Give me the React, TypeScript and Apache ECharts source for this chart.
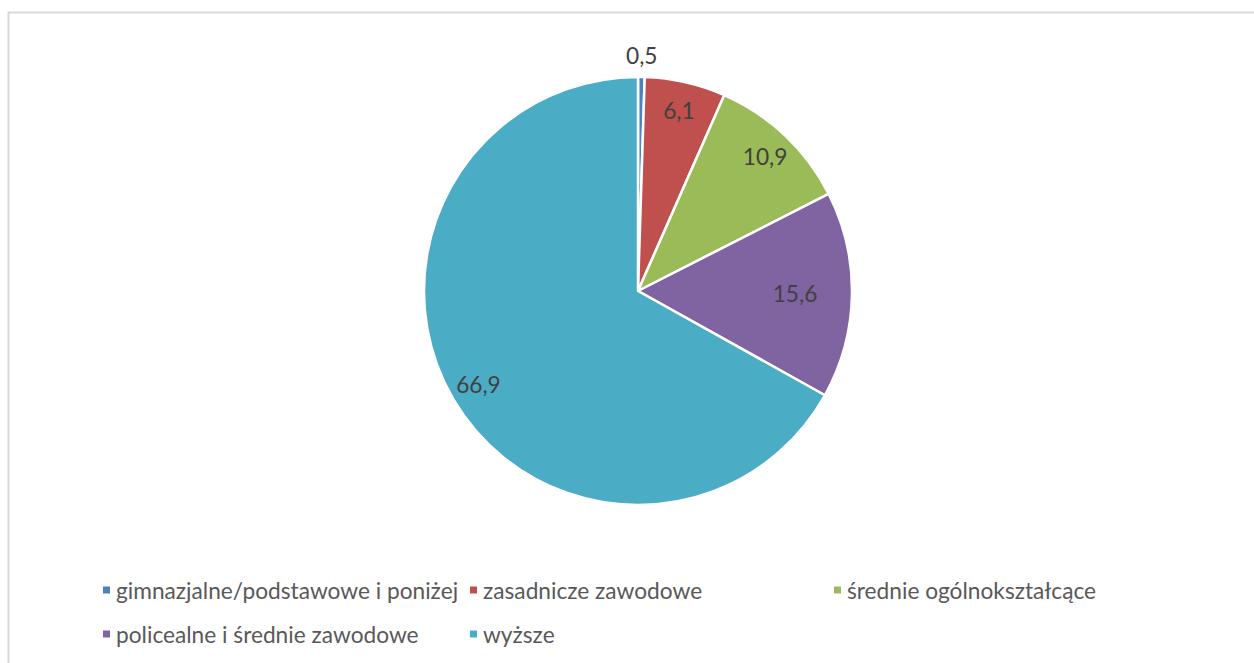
import React, { useEffect, useRef } from "react";
import * as echarts from "echarts";

const categories = [
  "gimnazjalne/podstawowe i poniżej",
  "zasadnicze zawodowe",
  "średnie ogólnokształcące",
  "policealne i średnie zawodowe",
  "wyższe",
];
const values = [0.5, 6.1, 10.9, 15.6, 66.9];
const colors = ["#4F81BD", "#C0504D", "#9BBB59", "#8064A2", "#4BACC6"];

const FONT = "Lato";
const FONT_SIZE = 22.7;
const CENTER = [638, 291];
const R = 214;

const fmt = (v: number) => String(v).replace(".", ",");

const legendPos = [
  { left: 101, top: 578 },
  { left: 468, top: 578 },
  { left: 832, top: 578 },
  { left: 101, top: 622 },
  { left: 468, top: 622 },
];

function labelRing(r0: number, r1: number, show: number[]) {
  return {
    type: "pie",
    center: CENTER,
    radius: [r0, r1],
    startAngle: 90,
    clockwise: true,
    silent: true,
    emphasis: { disabled: true },
    labelLine: { show: false },
    label: {
      show: true,
      position: "inside",
      color: "#404040",
      fontFamily: FONT,
      fontSize: FONT_SIZE,
      formatter: (p: any) => fmt(p.value),
    },
    data: categories.map((n, i) => ({
      name: n,
      value: values[i],
      itemStyle: { color: "rgba(0,0,0,0)", borderWidth: 0 },
      label: { show: show.includes(i) },
    })),
  };
}

export default function App() {
  const ref = useRef<HTMLDivElement>(null);
  useEffect(() => {
    if (!ref.current) return;
    const chart = echarts.init(ref.current, null, { renderer: "svg" });
    chart.setOption({
      animation: false,
      backgroundColor: "#ffffff",
      graphic: [
        {
          type: "rect",
          shape: { x: 8.5, y: 12.5, width: 1400, height: 800 },
          style: { fill: "none", stroke: "#d9d9d9", lineWidth: 2 },
          silent: true,
        },
      ],
      legend: categories.map((n, i) => ({
        data: [{ name: n, itemStyle: { color: colors[i] } }],
        left: legendPos[i].left,
        top: legendPos[i].top,
        icon: "rect",
        itemWidth: 9,
        itemHeight: 9,
        padding: 0,
        selectedMode: false,
        textStyle: { color: "#595959", fontFamily: FONT, fontSize: FONT_SIZE, lineHeight: 24 },
      })),
      series: [
        {
          type: "pie",
          center: CENTER,
          radius: [0, R],
          startAngle: 90,
          clockwise: true,
          silent: true,
          emphasis: { disabled: true },
          label: { show: false },
          labelLine: { show: false },
          itemStyle: { borderColor: "#ffffff", borderWidth: 2.5 },
          data: categories.map((n, i) => ({
            name: n,
            value: values[i],
            itemStyle: { color: colors[i] },
          })),
        },
        labelRing(150, 214, [1, 2, 4]),
        labelRing(120, 188, [3]),
        labelRing(214, 252, [0]),
      ],
    });
    return () => chart.dispose();
  }, []);
  return (
    <div
      ref={ref}
      style={{ position: "fixed", left: 0, top: 0, width: 1254, height: 663 }}
    />
  );
}
